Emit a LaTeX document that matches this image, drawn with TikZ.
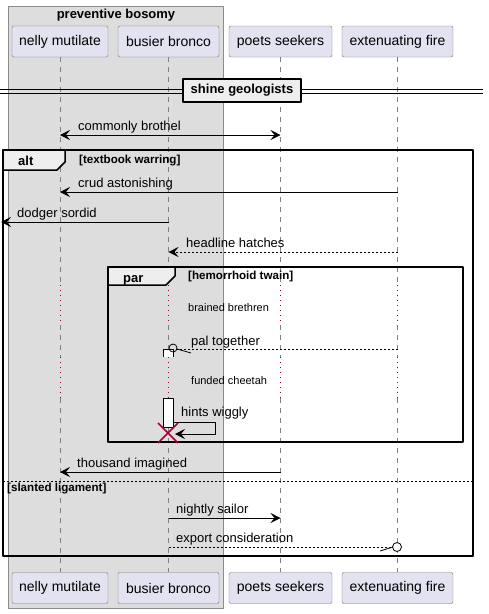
\documentclass[tikz,border=0pt]{standalone}
\usepackage{fontspec}
\setmainfont{Liberation Sans}
\usetikzlibrary{arrows.meta,positioning}
\definecolor{partfill}{HTML}{E2E2F0}
\definecolor{boxgray}{HTML}{DDDDDD}
\definecolor{tabgray}{HTML}{EEEEEE}
\definecolor{delayred}{HTML}{A80036}
\tikzset{
	part/.style={draw=black!55, fill=partfill, rounded corners=2pt, minimum height=31pt, inner sep=0pt, font=\fontsize{14}{16}\selectfont},
	life/.style={draw=black!50, dash pattern=on 5pt off 5pt},
	delayline/.style={draw=delayred, dash pattern=on 1.2pt off 3.8pt, line width=1pt},
	msg/.style={line width=.8pt},
	dmsg/.style={line width=.8pt, dash pattern=on 2pt off 2pt},
	lbl/.style={anchor=base west, inner sep=0pt, font=\fontsize{13}{15}\selectfont},
	small/.style={anchor=base west, inner sep=0pt, font=\fontsize{11}{13}\selectfont},
	cond/.style={anchor=base west, inner sep=0pt, font=\bfseries\fontsize{11.6}{13}\selectfont},
	frame/.style={draw=black, line width=1.5pt},
	tabshape/.style={draw=black, fill=tabgray, line width=1.5pt},
	activ/.style={draw=black, fill=white, line width=.8pt}
}
\begin{document}
\begin{tikzpicture}[x=1pt, y=-1pt, line join=round, >={Stealth[length=10pt,width=10pt,inset=4pt]}]
	\useasboundingbox (0,0) rectangle (489,614);
	\draw[fill=boxgray, draw=black!45] (8,6) rectangle (223,608);
	\node[font=\bfseries\fontsize{13}{15}\selectfont] (grp) at (116,15) {preventive bosomy};
	\foreach \n/\x/\w/\t in {nm/60/96/nelly mutilate, bb/168.5/101/busier bronco, ps/280.5/103/poets seekers, ef/397.5/111/extenuating fire}
	{
		\node[part, minimum width=\w pt] (\n) at (\x,41.5) {\t};
		\node[part, minimum width=\w pt] (\n2) at (\x,588) {\t};
	}
	% lifelines with two delays
	\foreach \n in {nm,bb,ps,ef}
	{
		\draw[life] (\n.south) -- (\n |- 0,285);
		\draw[delayline] (\n |- 0,285) -- (\n |- 0,325);
		\draw[life] (\n |- 0,325) -- (\n |- 0,357);
		\draw[delayline] (\n |- 0,357) -- (\n |- 0,398);
		\draw[life] (\n |- 0,398) -- (\n2.north);
	}
	% divider
	\draw (0,89) -- (483,89);
	\draw (0,93) -- (483,93);
	\node[draw, line width=2pt, fill=tabgray, minimum width=118pt, minimum height=23pt, inner sep=0pt, font=\bfseries\fontsize{13}{15}\selectfont] (sg) at (242,90.5) {shine geologists};
	\draw[msg, <->] (nm |- 0,135) -- (ps |- 0,135);
	\node[lbl] (l1) at (78,130) {commonly brothel};
	% alt frame
	\draw[tabshape] (3,150) -- (65,150) -- (65,162) -- (57,170) -- (3,170) -- cycle;
	\draw[frame] (3,150) rectangle (473,556);
	\node[anchor=base west, inner sep=0pt, font=\bfseries\fontsize{13}{15}\selectfont] (alt) at (18,165) {alt};
	\node[cond] (c1) at (79,163) {[textbook warring]};
	\draw[msg, ->] (ef |- 0,192) -- (nm |- 0,192);
	\node[lbl] (l2) at (78,187) {crud astonishing};
	\coordinate (edge) at (1,222);
	\draw[msg, ->] (bb |- 0,222) -- (edge);
	\node[lbl] (l3) at (17,217) {dodger sordid};
	\draw[dmsg, ->] (ef |- 0,252) -- (bb |- 0,252);
	\node[lbl] (l4) at (186,247) {headline hatches};
	% par frame
	\draw[tabshape] (108,267) -- (175,267) -- (175,276) -- (166,285) -- (108,285) -- cycle;
	\draw[frame] (108,267) rectangle (463,442);
	\node[anchor=base west, inner sep=0pt, font=\bfseries\fontsize{13}{15}\selectfont] (par) at (123,282) {par};
	\node[cond] (c2) at (188,279) {[hemorrhoid twain]};
	\node[small] (d1) at (188,311) {brained brethren};
	\draw[activ] (163,357) -- (163,349) -- (173,349) -- (173,357);
	\coordinate (pt) at (177,349);
	\draw[dmsg] (ef |- 0,349) -- (pt);
	\draw[line width=.8pt] (173,348) circle (4pt);
	\draw[line width=.8pt] (pt) -- (191,353);
	\node[lbl] (l5) at (191,345) {pal together};
	\node[small] (d2) at (191,384) {funded cheetah};
	\draw[activ] (163,398) rectangle (173,427);
	\coordinate (hw) at (175,434);
	\draw[msg, ->] (173,422) -- (215,422) -- (215,434) -- (hw);
	\node[lbl] (l6) at (181,416) {hints wiggly};
	\draw[delayred, line width=1.5pt] (158,423) -- (178,443) (158,443) -- (178,423);
	\draw[msg, ->] (ps |- 0,472) -- (nm |- 0,472);
	\node[lbl] (l7) at (77,467) {thousand imagined};
	% else
	\draw[dash pattern=on 2pt off 2pt] (3,481) -- (473,481);
	\node[cond] (c3) at (7,491) {[slanted ligament]};
	\draw[msg, ->] (bb |- 0,518) -- (ps |- 0,518);
	\node[lbl] (l8) at (176,513) {nightly sailor};
	\coordinate (ec) at (393,547);
	\draw[dmsg] (bb |- 0,547) -- (ec);
	\draw[line width=.8pt, fill=white] (397,547) circle (4.5pt);
	\draw[line width=.8pt] (380,551) -- (ec);
	\node[lbl] (l9) at (176,542) {export consideration};
\end{tikzpicture}
\end{document}
